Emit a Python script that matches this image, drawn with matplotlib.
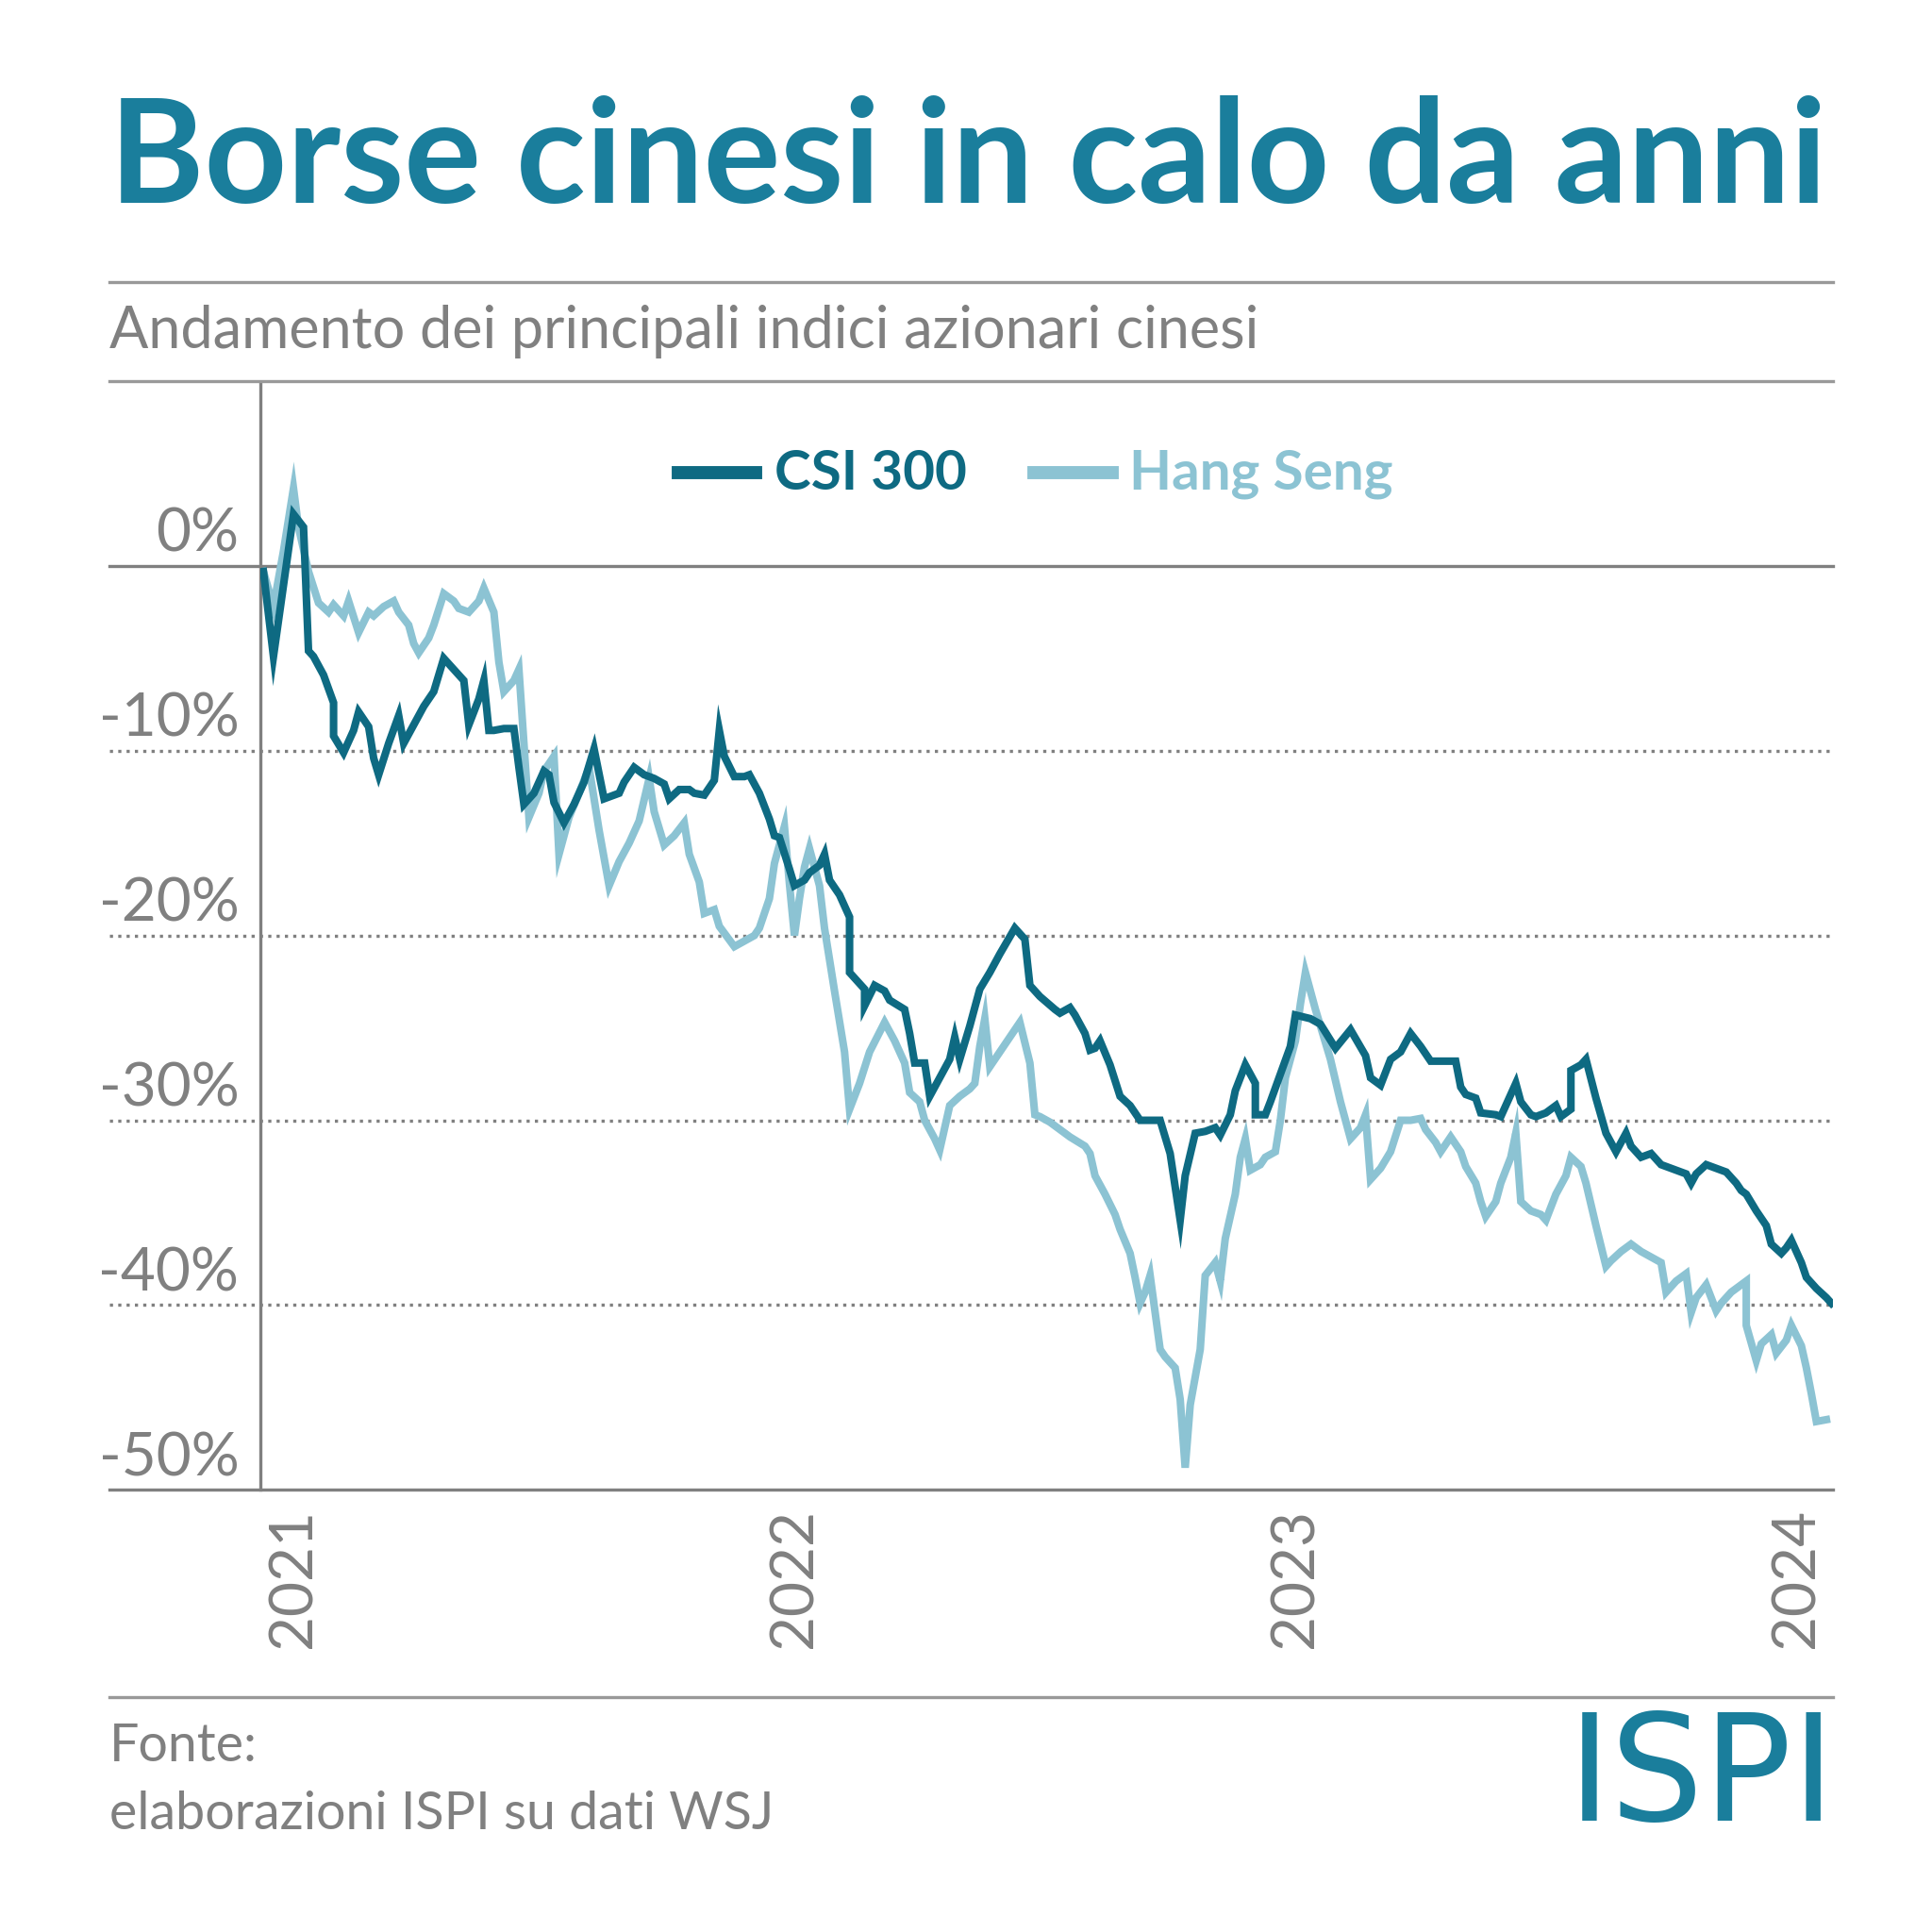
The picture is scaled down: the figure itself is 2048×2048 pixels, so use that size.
import matplotlib.pyplot as plt
from matplotlib.lines import Line2D

# time in years since 2021-01-01, values in % change
csi_t = [-0.06,-0.04,0.00,0.02,0.03,0.04,0.06,0.08,0.08,0.10,0.12,0.13,0.15,0.16,0.17,0.19,0.21,0.22,0.24,0.26,
         0.28,0.30,0.32,0.34,0.35,0.37,0.38,0.39,0.40,0.42,0.44,0.45,0.46,0.48,0.50,0.51,0.52,0.54,0.56,0.58,
         0.60,0.62,0.65,0.66,0.68,0.70,0.72,0.74,0.75,0.77,0.79,0.80,0.82,0.84,0.85,0.86,0.88,0.90,0.91,0.93,
         0.95,0.96,0.97,0.99,1.00,1.02,1.03,1.05,1.06,1.07,1.09,1.11,1.11,1.12,1.14,1.14,1.16,1.18,1.19,1.22,
         1.23,1.24,1.26,1.27,1.29,1.31,1.32,1.33,1.35,1.37,1.39,1.41,1.44,1.46,1.47,1.49,1.52,1.53,1.55,1.56,
         1.58,1.59,1.60,1.61,1.63,1.65,1.67,1.69,1.73,1.75,1.77,1.78,1.80,1.82,1.84,1.85,1.87,1.88,1.90,1.92,
         1.92,1.94,1.95,1.97,1.99,2.00,2.03,2.05,2.08,2.11,2.14,2.15,2.17,2.19,2.21,2.23,2.25,2.27,2.32,2.33,
         2.34,2.36,2.37,2.40,2.41,2.44,2.45,2.47,2.48,2.50,2.52,2.53,2.55,2.55,2.57,2.58,2.60,2.62,2.64,2.66,
         2.67,2.69,2.71,2.73,2.75,2.78,2.79,2.80,2.82,2.84,2.86,2.88,2.89,2.90,2.92,2.94,2.95,2.97,2.98,2.99,
         3.01,3.02,3.04,3.06,3.07]
csi_v = [-0.3,-4.9,2.8,2.1,-4.6,-4.9,-5.9,-7.4,-9.2,-10.1,-8.9,-7.9,-8.7,-10.4,-11.3,-9.6,-8.1,-9.6,-8.6,-7.6,
         -6.8,-5.0,-5.6,-6.2,-8.6,-7.2,-6.2,-8.9,-8.9,-8.8,-8.8,-10.9,-12.9,-12.3,-11.1,-11.3,-12.8,-13.9,-12.9,-11.7,
         -9.9,-12.6,-12.3,-11.7,-10.9,-11.3,-11.5,-11.8,-12.6,-12.1,-12.1,-12.3,-12.4,-11.6,-8.9,-10.3,-11.4,-11.4,-11.3,-12.3,
         -13.7,-14.6,-14.7,-16.4,-17.3,-17.0,-16.6,-16.2,-15.6,-17.0,-17.8,-19.0,-22.0,-22.3,-22.9,-23.8,-22.7,-23.0,-23.5,-24.0,
         -25.3,-26.9,-26.9,-28.7,-27.7,-26.7,-25.5,-26.7,-24.9,-22.9,-22.0,-21.0,-19.6,-20.2,-22.7,-23.3,-24.0,-24.2,-23.9,-24.3,
         -25.3,-26.2,-26.1,-25.7,-27.0,-28.7,-29.2,-30.0,-30.0,-31.8,-35.4,-33.0,-30.7,-30.6,-30.4,-30.8,-29.7,-28.4,-27.0,-28.0,
         -29.7,-29.7,-29.0,-27.5,-26.0,-24.3,-24.5,-24.8,-26.1,-25.1,-26.5,-27.7,-28.1,-26.7,-26.3,-25.3,-26.0,-26.8,-26.8,-28.2,
         -28.6,-28.8,-29.6,-29.7,-29.8,-28.0,-29.0,-29.7,-29.8,-29.6,-29.2,-29.8,-29.4,-27.3,-27.0,-26.7,-28.8,-30.7,-31.7,-30.7,
         -31.4,-32.0,-31.8,-32.4,-32.6,-32.9,-33.4,-32.9,-32.4,-32.6,-32.8,-33.4,-33.8,-34.0,-34.9,-35.7,-36.7,-37.2,-36.9,-36.5,
         -37.7,-38.5,-39.1,-39.6,-39.9]

hs_t = [-0.06,-0.04,-0.02,0.00,0.01,0.03,0.05,0.07,0.08,0.10,0.11,0.13,0.15,0.16,0.18,0.20,0.21,0.23,0.24,0.25,
        0.27,0.28,0.30,0.32,0.33,0.35,0.37,0.38,0.40,0.41,0.42,0.44,0.45,0.46,0.47,0.49,0.50,0.52,0.53,0.55,
        0.57,0.59,0.61,0.63,0.65,0.67,0.69,0.71,0.72,0.74,0.76,0.78,0.79,0.81,0.82,0.84,0.85,0.88,0.90,0.92,
        0.93,0.95,0.96,0.98,0.99,1.00,1.01,1.02,1.03,1.05,1.06,1.08,1.10,1.11,1.13,1.15,1.18,1.20,1.22,1.23,
        1.25,1.26,1.28,1.29,1.31,1.33,1.35,1.36,1.37,1.38,1.39,1.41,1.43,1.45,1.47,1.48,1.49,1.51,1.53,1.55,
        1.58,1.59,1.60,1.62,1.64,1.65,1.67,1.68,1.69,1.70,1.71,1.73,1.74,1.76,1.77,1.78,1.79,1.81,1.82,1.84,
        1.85,1.86,1.88,1.89,1.90,1.91,1.93,1.94,1.96,1.97,1.98,2.00,2.01,2.02,2.04,2.07,2.09,2.11,2.13,2.14,
        2.15,2.17,2.19,2.21,2.23,2.25,2.26,2.28,2.29,2.31,2.33,2.34,2.36,2.37,2.38,2.40,2.41,2.43,2.44,2.45,
        2.47,2.49,2.50,2.52,2.54,2.55,2.57,2.58,2.60,2.62,2.63,2.65,2.67,2.69,2.71,2.73,2.74,2.76,2.78,2.79,
        2.80,2.82,2.84,2.85,2.87,2.90,2.90,2.92,2.93,2.95,2.96,2.98,2.99,3.01,3.02,3.03,3.04,3.06]
hs_v = [-0.3,-2.2,0.8,4.2,2.1,-0.3,-2.0,-2.5,-2.1,-2.7,-1.9,-3.6,-2.5,-2.7,-2.2,-1.9,-2.5,-3.2,-4.2,-4.7,
        -3.9,-3.2,-1.5,-1.9,-2.3,-2.5,-1.9,-1.2,-2.5,-5.2,-6.8,-6.2,-5.6,-9.6,-13.6,-12.3,-11.1,-10.3,-15.6,-13.6,
        -12.3,-10.9,-14.3,-17.3,-16.0,-15.0,-13.8,-11.5,-13.3,-15.1,-14.6,-13.9,-15.6,-17.1,-18.8,-18.6,-19.5,-20.6,-20.3,-20.0,
        -19.6,-18.0,-16.1,-14.1,-17.2,-20.0,-18.0,-16.3,-15.3,-17.3,-19.6,-23.0,-26.3,-29.4,-28.0,-26.3,-24.7,-25.7,-26.9,-28.5,
        -29.0,-30.0,-31.0,-31.6,-29.2,-28.7,-28.3,-28.0,-26.0,-24.5,-27.1,-26.3,-25.5,-24.7,-26.9,-29.7,-29.8,-30.1,-30.5,-30.9,
        -31.4,-31.8,-33.0,-34.0,-35.1,-35.9,-37.2,-38.5,-39.9,-39.3,-38.4,-42.4,-42.8,-43.4,-45.1,-48.8,-45.4,-42.4,-38.4,-37.7,
        -38.7,-36.4,-34.0,-32.0,-31.0,-32.7,-32.4,-32.0,-31.7,-30.0,-27.7,-25.7,-23.7,-22.0,-24.0,-26.7,-29.0,-31.0,-30.4,-29.7,
        -33.2,-32.6,-31.7,-30.0,-30.0,-29.9,-30.5,-31.2,-31.7,-30.9,-31.7,-32.5,-33.4,-34.4,-35.2,-34.4,-33.4,-32.0,-30.7,-34.4,
        -34.9,-35.1,-35.4,-34.0,-33.0,-32.0,-32.5,-33.4,-35.7,-37.9,-37.6,-37.1,-36.7,-37.1,-37.4,-37.7,-39.3,-38.7,-38.3,-40.4,
        -39.6,-38.9,-40.3,-39.9,-39.3,-38.7,-41.1,-43.0,-42.1,-41.6,-42.6,-41.9,-41.1,-42.2,-43.4,-44.8,-46.3,-46.2]

y_ticks = [0, -10, -20, -30, -40, -50]
y_labels = ['0%', '-10%', '-20%', '-30%', '-40%', '-50%']
x_ticks = [0, 1, 2, 3]
x_labels = ['2021', '2022', '2023', '2024']

TEAL = '#1a7e9c'
DARK = '#0e6a82'
LIGHT = '#8cc3d3'
GREY = '#808080'
FONT = 'Lato'
S = 1560.0


def fx(px):
    return px / S


def fy(py):
    return 1 - py / S


fig = plt.figure(figsize=(10.24, 10.24), dpi=200)
fig.patch.set_facecolor('white')

fig.text(fx(88), fy(130), 'Borse cinesi in calo da anni', fontsize=55, fontweight='bold',
         color=TEAL, family=FONT, va='center', ha='left')
fig.text(fx(88), fy(268), 'Andamento dei principali indici azionari cinesi', fontsize=22,
         color=GREY, family=FONT, va='center', ha='left')
for py in (228, 308, 1370):
    fig.add_artist(Line2D([fx(88), fx(1480)], [fy(py), fy(py)], color='#999999', lw=1.2))

ax = fig.add_axes([fx(210), fy(1203), fx(1480) - fx(210), fy(310) - fy(1203)])
ax.set_xlim(-0.0667, 3.073)
ax.set_ylim(-50, 9.85)
ax.plot(hs_t, hs_v, color=LIGHT, lw=2.9, solid_joinstyle='miter', zorder=3)
ax.plot(csi_t, csi_v, color=DARK, lw=2.9, solid_joinstyle='miter', zorder=4)

for sp in ('top', 'right', 'bottom'):
    ax.spines[sp].set_visible(False)
ax.spines['left'].set_color(GREY)
ax.spines['left'].set_linewidth(1.2)
ax.set_xticks([])
ax.set_yticks([])

# gridlines extend beyond the axes to the left margin
for v, lab in zip(y_ticks, y_labels):
    ls = '-' if v in (0, -50) else ':'
    ax.plot([-0.0667 - 122 / 404.5, 3.073], [v, v], color=GREY, lw=1.2, ls=ls,
            clip_on=False, zorder=1)
    ax.text(-0.0667 - 17 / 404.5, v + 0.2, lab, fontsize=23, color=GREY, family=FONT,
            ha='right', va='bottom')

for t, lab in zip(x_ticks, x_labels):
    ax.text(t, -51.0, lab, fontsize=23, color=GREY, family=FONT,
            rotation=90, ha='center', va='top')

fig.add_artist(Line2D([fx(548), fx(610)], [fy(382), fy(382)], color=DARK, lw=5))
fig.text(fx(625), fy(383), 'CSI 300', fontsize=21, fontweight='bold', color=DARK,
         family=FONT, va='center')
fig.add_artist(Line2D([fx(835), fx(898)], [fy(382), fy(382)], color=LIGHT, lw=5))
fig.text(fx(912), fy(383), 'Hang Seng', fontsize=21, fontweight='bold', color=LIGHT,
         family=FONT, va='center')

fig.text(fx(88), fy(1410), 'Fonte:', fontsize=20, color=GREY, family=FONT,
         va='center')
fig.text(fx(88), fy(1465), 'elaborazioni ISPI su dati WSJ', fontsize=20, color=GREY,
         family=FONT, va='center')
fig.text(fx(1482), fy(1437), 'ISPI', fontsize=56, color=TEAL, family='DejaVu Sans',
         fontweight='normal', ha='right', va='center')

fig.savefig('out.png', dpi=200, facecolor='white')
